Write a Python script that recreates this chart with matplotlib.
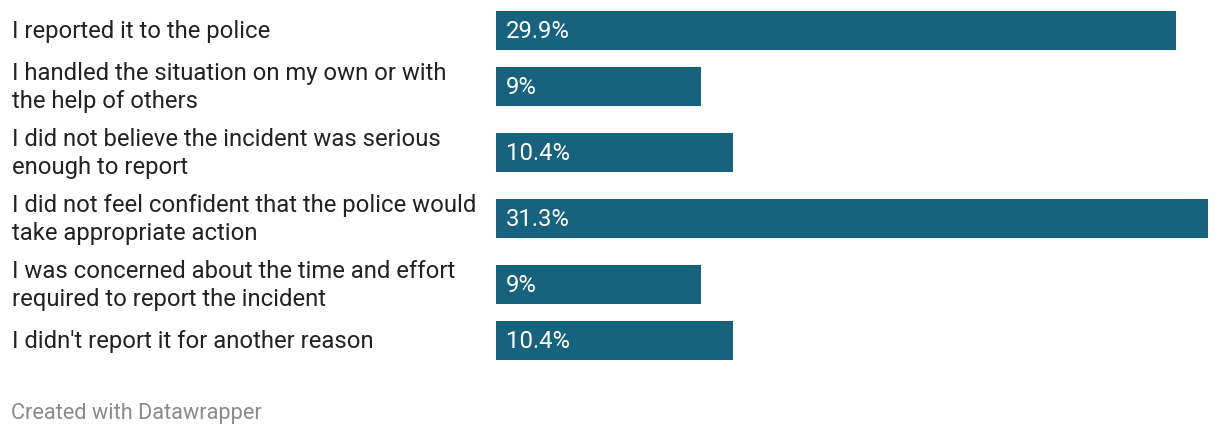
import matplotlib
matplotlib.use("Agg")
import matplotlib.pyplot as plt

categories = [
    "I reported it to the police",
    "I handled the situation on my own or with\nthe help of others",
    "I did not believe the incident was serious\nenough to report",
    "I did not feel confident that the police would\ntake appropriate action",
    "I was concerned about the time and effort\nrequired to report the incident",
    "I didn't report it for another reason",
]
values = [29.9, 9, 10.4, 31.3, 9, 10.4]
value_labels = ["29.9%", "9%", "10.4%", "31.3%", "9%", "10.4%"]

plt.rcParams["font.family"] = ["Roboto", "DejaVu Sans"]

W, H = 1220, 438
fig = plt.figure(figsize=(W / 100, H / 100), dpi=100)
fig.patch.set_facecolor("white")

# bar axis spans x=496..1208 px, full height in pixel units
ax = fig.add_axes([496 / W, 0, (1208 - 496) / W, 1])
ax.set_xlim(0, max(values))
ax.set_ylim(H, 0)
ax.axis("off")

bar_color = "#17627c"
bar_h = 39

# row layout: half-height depends on the number of label lines
centers = []
y = 7
for cat in categories:
    half = 33 if "\n" in cat else 23
    y += half
    centers.append(y)
    y += half

ax.barh(centers, values, height=bar_h, color=bar_color)

for c, cat, lab in zip(centers, categories, value_labels):
    ax.text(10 / 712 * max(values), c + 1.5, lab, color="white", fontsize=17.2,
            va="center", ha="left")
    fig.text(12 / W, 1 - (c + 1.5) / H, cat, fontsize=17.2, color="#222222",
             va="center", ha="left", linespacing=1.27)

fig.text(11 / W, 1 - 414 / H, "Created with Datawrapper", fontsize=15.7,
         color="#8a8a8a", va="center", ha="left")

fig.savefig("out.png", dpi=100)
